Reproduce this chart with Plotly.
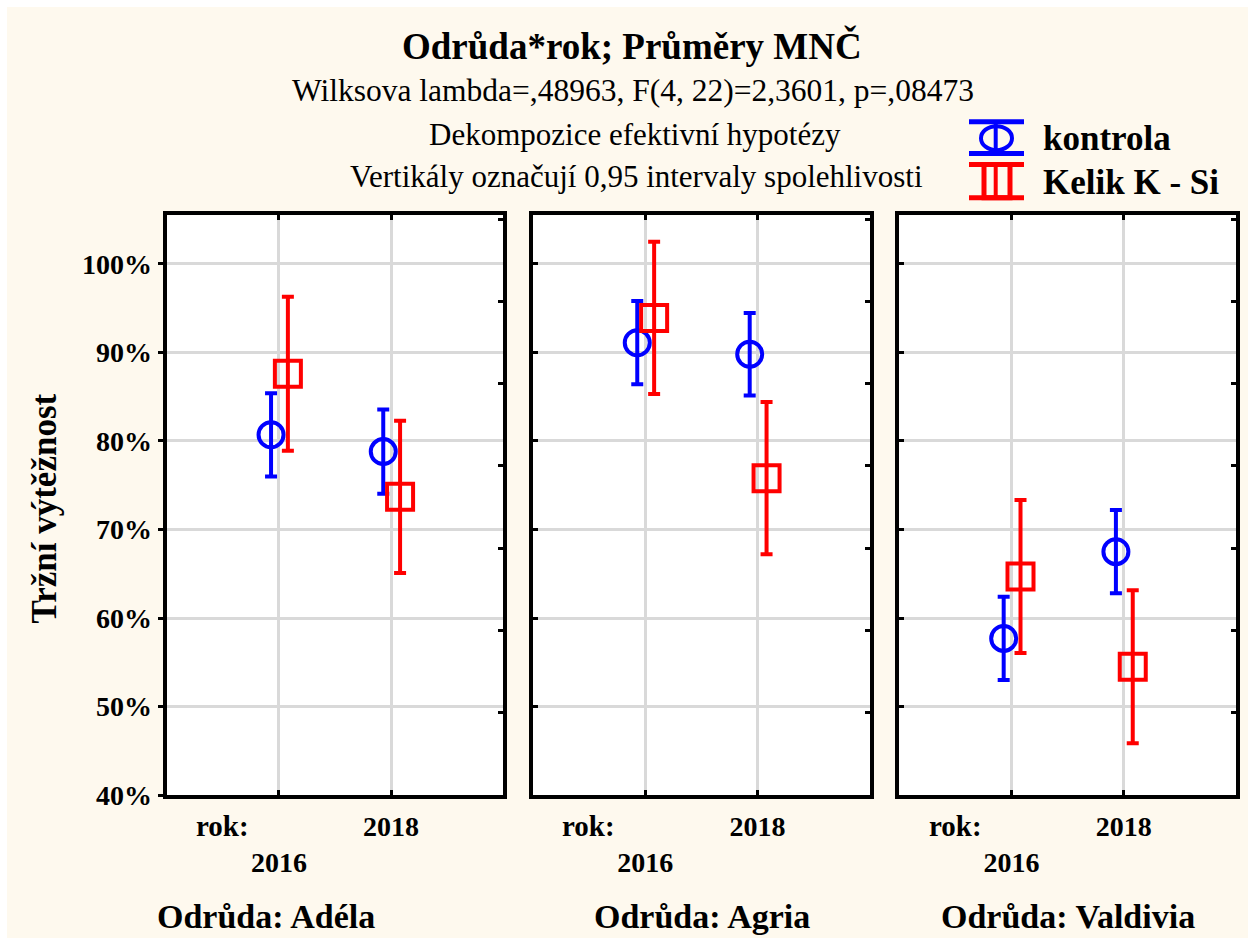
import plotly.graph_objects as go

W, H = 1248, 938
H_LAYOUT = 955  # compensates a 17px vertical shrink observed in the renderer

# ---------------- data ----------------
varieties = ["Adéla", "Agria", "Valdivia"]
years = ["2016", "2018"]
series_names = ["kontrola", "Kelik K - Si"]

kontrola_means = [[80.7, 78.8], [91.1, 89.8], [57.7, 67.5]]
kontrola_ci = [[4.7, 4.75], [4.7, 4.65], [4.7, 4.7]]
kelik_means = [[87.6, 73.7], [93.9, 75.8], [64.7, 54.5]]
kelik_ci = [[8.7, 8.6], [8.6, 8.6], [8.65, 8.65]]

y_ticks = [40, 50, 60, 70, 80, 90, 100]
y_tick_labels = [f"{v}%" for v in y_ticks]

title_text = "Odrůda*rok; Průměry MNČ"
sub_lines = [
    "Wilksova lambda=,48963, F(4, 22)=2,3601, p=,08473",
    "Dekompozice efektivní hypotézy",
    "Vertikály označují 0,95 intervaly spolehlivosti",
]
y_title = "Tržní výtěžnost"
x_name = "rok:"
facet_prefix = "Odrůda: "

# ---------------- style ----------------
FONT = "Liberation Serif, Times New Roman, serif"
BLUE = "#0000FF"
RED = "#FF0000"
GRID = "#D9D9D9"
BG = "#FEF9EE"
OFF_K, OFF_R = -0.07, 0.08

def px_x(p):
    return p / W

def px_y(p):
    return 1 - p / H

x_doms = [(166.7, 503.3), (532.7, 870.0), (899.3, 1236.0)]
y_dom = (215.0, 794.3)
label_centers = [266, 702, 1068]

fig = go.Figure()
cat_pos = [i + 1 for i in range(len(years))]

for i, var in enumerate(varieties):
    xa = "x" if i == 0 else f"x{i+1}"
    ya = "y" if i == 0 else f"y{i+1}"
    fig.add_trace(go.Scatter(
        x=[c + OFF_K for c in cat_pos], y=kontrola_means[i], mode="markers",
        name=series_names[0], showlegend=False, cliponaxis=False,
        marker=dict(symbol="circle-open", size=25, color=BLUE, line=dict(width=4, color=BLUE)),
        error_y=dict(type="data", array=kontrola_ci[i], color=BLUE, thickness=4, width=6),
        xaxis=xa, yaxis=ya))
    fig.add_trace(go.Scatter(
        x=[c + OFF_R for c in cat_pos], y=kelik_means[i], mode="markers",
        name=series_names[1], showlegend=False, cliponaxis=False,
        marker=dict(symbol="square-open", size=26, color=RED, line=dict(width=4, color=RED)),
        error_y=dict(type="data", array=kelik_ci[i], color=RED, thickness=4, width=6),
        xaxis=xa, yaxis=ya))
    fig.add_trace(go.Scatter(x=[None], y=[None], showlegend=False, hoverinfo="skip",
                             xaxis=xa, yaxis=f"y{i+4}"))

    xkey = "xaxis" if i == 0 else f"xaxis{i+1}"
    ykey = "yaxis" if i == 0 else f"yaxis{i+1}"
    fig.layout[xkey] = dict(
        domain=[px_x(x_doms[i][0]), px_x(x_doms[i][1])], anchor=ya,
        range=[0, 3], tickmode="array", tickvals=cat_pos,
        ticktext=["<br>" + years[0], years[1]],
        showgrid=True, gridcolor=GRID, gridwidth=3, zeroline=False,
        showline=True, linecolor="black", linewidth=4, mirror="ticks",
        ticks="inside", ticklen=5, tickwidth=3, tickcolor="black",
        ticklabelstandoff=3,
        tickfont=dict(family=FONT, size=28, color="black", weight="bold"),
        fixedrange=True)
    fig.layout[ykey] = dict(
        domain=[px_y(y_dom[1]), px_y(y_dom[0])], anchor=xa,
        range=[40, 105.5], tickmode="array", tickvals=y_ticks, ticktext=y_tick_labels,
        showticklabels=(i == 0),
        showgrid=True, gridcolor=GRID, gridwidth=3, zeroline=False,
        showline=True, linecolor="black", linewidth=4, mirror=True,
        ticks="outside" if i == 0 else "inside", ticklen=5, tickwidth=3, tickcolor="black",
        tickfont=dict(family=FONT, size=28, color="black", weight="bold"),
        fixedrange=True)
    fig.layout[f"yaxis{i+4}"] = dict(
        overlaying=ya, side="right", anchor=xa, range=[0, 7.047],
        tickmode="linear", tick0=0, dtick=1, ticks="inside", ticklen=5, tickwidth=3,
        tickcolor="black", showticklabels=False, showgrid=False, zeroline=False,
        showline=False, fixedrange=True)

annotations = []
def ann(text, x, y, size, bold=False, xref="paper", **kw):
    annotations.append(dict(
        text=text, x=x, y=y, xref=xref, yref="paper", showarrow=False,
        font=dict(family=FONT, size=size, color="black", weight="bold" if bold else "normal"),
        xanchor=kw.pop("xanchor", "center"), yanchor=kw.pop("yanchor", "middle"), **kw))

ann(title_text, px_x(632), px_y(46), 37, bold=True)
ann(sub_lines[0], px_x(633), px_y(90), 31.5)
ann(sub_lines[1], px_x(635), px_y(134), 31)
ann(sub_lines[2], px_x(636), px_y(176), 31)
ann(y_title, px_x(45), px_y(508), 35, bold=True, textangle=-90)
for i, var in enumerate(varieties):
    xa = "x" if i == 0 else f"x{i+1}"
    ann(x_name, 0.5, px_y(825), 29, bold=True, xref=xa)
    ann(facet_prefix + var, px_x(label_centers[i]), px_y(916), 34, bold=True)

ann(series_names[0], px_x(1041), px_y(138), 35, bold=True, xanchor="left")
ann(series_names[1], px_x(1041), px_y(182), 35, bold=True, xanchor="left")

shapes = []
def line(x0, y0, x1, y1, color, w=4):
    shapes.append(dict(type="line", xref="paper", yref="paper",
                       x0=px_x(x0), y0=px_y(y0), x1=px_x(x1), y1=px_y(y1),
                       line=dict(color=color, width=w)))

shapes.append(dict(type="rect", xref="paper", yref="paper", x0=0, x1=px_x(7), y0=0, y1=1,
                   fillcolor="white", line=dict(width=0), layer="below"))
shapes.append(dict(type="rect", xref="paper", yref="paper", x0=0, x1=1, y0=px_y(7), y1=1,
                   fillcolor="white", line=dict(width=0), layer="below"))

line(969, 121.7, 1024, 121.7, BLUE, 5)
line(969, 153.3, 1024, 153.3, BLUE, 5)
line(995.7, 121.7, 995.7, 153.3, BLUE, 4)
shapes.append(dict(type="circle", xref="paper", yref="paper",
                   x0=px_x(981), x1=px_x(1012), y0=px_y(150), y1=px_y(126),
                   line=dict(color=BLUE, width=4)))
line(969, 164.3, 1024, 164.3, RED, 5)
line(969, 197.5, 1024, 197.5, RED, 5)
line(995.7, 164.3, 995.7, 197.5, RED, 4)
shapes.append(dict(type="rect", xref="paper", yref="paper",
                   x0=px_x(984), x1=px_x(1010), y0=px_y(197.5), y1=px_y(164.3),
                   line=dict(color=RED, width=5)))

fig.update_layout(
    width=W, height=H_LAYOUT, autosize=False,
    margin=dict(l=0, r=0, t=0, b=0),
    paper_bgcolor=BG, plot_bgcolor="white",
    showlegend=False, annotations=annotations, shapes=shapes,
)

fig.write_html("out.html")
